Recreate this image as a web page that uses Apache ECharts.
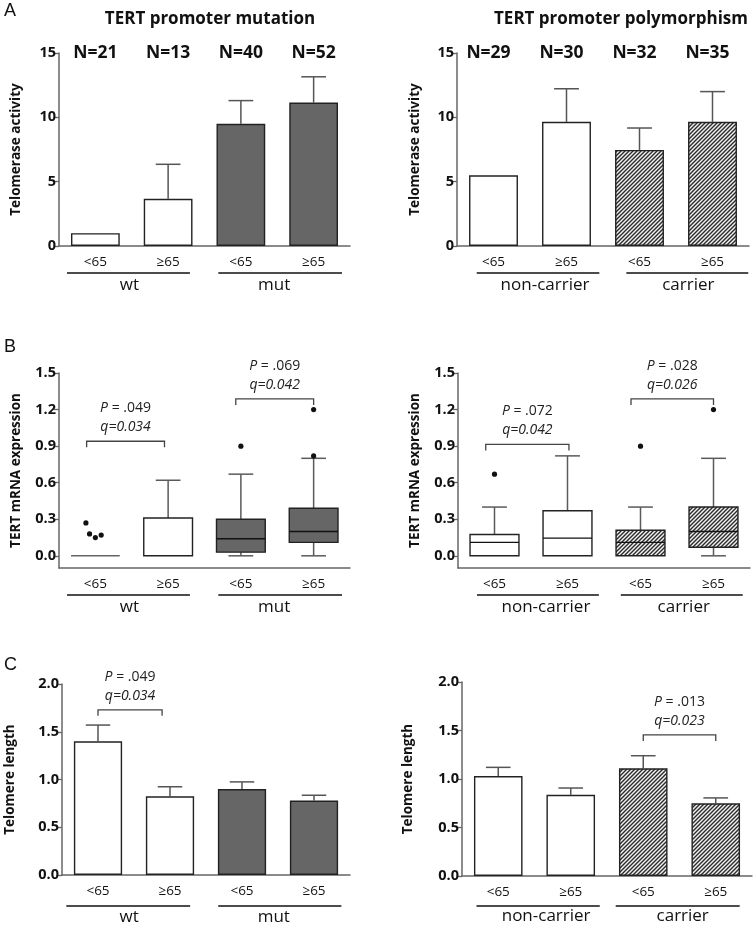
<!DOCTYPE html>
<html><head><meta charset="utf-8">
<script src="https://cdn.jsdelivr.net/npm/echarts@6/dist/echarts.min.js"></script>
<style>html,body{margin:0;padding:0;background:#fff}#c{width:755px;height:926px}</style>
</head><body><div id="c"></div>
<script>
// ---------------- DATA ----------------
const ageCategories = ['<65', '≥65', '<65', '≥65'];
const mutationGroups = ['wt', 'mut'];
const polymorphismGroups = ['non-carrier', 'carrier'];
const mutationN = [21, 13, 40, 52];
const polymorphismN = [29, 30, 32, 35];

const telomeraseMutation = [1.0, 3.67, 9.5, 11.15];
const telomeraseMutationErr = [0, 2.68, 1.8, 2.0];
const telomerasePolymorphism = [5.5, 9.65, 7.47, 9.65];
const telomerasePolymorphismErr = [0, 2.57, 1.7, 2.35];

// [min, Q1, median, Q3, max]
const mrnaMutationBox = [[0, 0, 0, 0, 0], [0, 0, 0, 0.31, 0.62], [0, 0.03, 0.14, 0.30, 0.67], [0, 0.11, 0.20, 0.39, 0.80]];
const mrnaMutationOutliers = [[0, 0.27], [0, 0.18], [0, 0.15], [0, 0.17], [2, 0.90], [3, 1.20], [3, 0.82]];
const mrnaMutationJitter = [-0.13, -0.08, 0, 0.08, 0, 0, 0];
const mrnaPolymorphismBox = [[0, 0, 0.11, 0.175, 0.40], [0, 0, 0.145, 0.37, 0.82], [0, 0, 0.11, 0.21, 0.40], [0, 0.07, 0.20, 0.40, 0.80]];
const mrnaPolymorphismOutliers = [[0, 0.67], [2, 0.90], [3, 1.20]];
const mrnaPolymorphismJitter = [0, 0, 0];
const mrnaTicks = [0, 0.3, 0.6, 0.9, 1.2, 1.5];

const telomereMutation = [1.40, 0.824, 0.90, 0.78];
const telomereMutationErr = [0.17, 0.10, 0.075, 0.055];
const telomerePolymorphism = [1.03, 0.837, 1.11, 0.75];
const telomerePolymorphismErr = [0.09, 0.07, 0.13, 0.055];

const mrnaMutationTests = [{from: 0, to: 1, y: 0.94, p: '.049', q: '0.034'}, {from: 2, to: 3, y: 1.287, p: '.069', q: '0.042'}];
const mrnaPolymorphismTests = [{from: 0, to: 1, y: 0.914, p: '.072', q: '0.042'}, {from: 2, to: 3, y: 1.287, p: '.028', q: '0.026'}];
const telomereMutationTests = [{from: 0, to: 1, y: 1.73, p: '.049', q: '0.034'}];
const telomerePolymorphismTests = [{from: 2, to: 3, y: 1.454, p: '.013', q: '0.023'}];

// ---------------- STYLE ----------------
const FONT = '"Open Sans", "DejaVu Sans", sans-serif';
function makeHatch() {
  const s = 4, c = document.createElement('canvas');
  c.width = s; c.height = s;
  const g = c.getContext('2d');
  g.fillStyle = '#f2f2f2'; g.fillRect(0, 0, s, s);
  g.strokeStyle = '#2a2a2a'; g.lineWidth = 1.4;
  g.beginPath();
  g.moveTo(-1, s + 1); g.lineTo(s + 1, -1);
  g.moveTo(-1, 1); g.lineTo(1, -1);
  g.moveTo(s - 1, s + 1); g.lineTo(s + 1, s - 1);
  g.stroke();
  return c;
}
const hatch = {image: makeHatch(), repeat: 'repeat'};
const mutFills = ['#ffffff', '#ffffff', '#666666', '#666666'];
const polyFills = ['#ffffff', '#ffffff', hatch, hatch];

const panels = [
  {kind: 'bar', left: 59, top: 53, width: 291, height: 193, ymin: 0, ymax: 15, interval: 5, dec: 0,
   name: 'Telomerase activity', nameGap: 36, values: telomeraseMutation, err: telomeraseMutationErr, fills: mutFills,
   groups: mutationGroups, groupSpan: [[-0.39, 0.3], [-0.31, 0.39]], groupDx: [1, -6], n: mutationN, nDx: 0,
   lineDy: 27, groupDy: 39},
  {kind: 'bar', left: 457, top: 53, width: 292, height: 193, ymin: 0, ymax: 15, interval: 5, dec: 0,
   name: 'Telomerase activity', nameGap: 35, values: telomerasePolymorphism, err: telomerasePolymorphismErr, fills: polyFills,
   groups: polymorphismGroups, groupSpan: [[-0.23, 0.45], [-0.18, 0.49]], groupDx: [7, 1], n: polymorphismN, nDx: -5,
   lineDy: 27, groupDy: 39},
  {kind: 'box', left: 59, top: 373, width: 291, height: 195, ymin: -0.1, ymax: 1.5, ticks: mrnaTicks, dec: 1,
   name: 'TERT mRNA expression', nameGap: 36, box: mrnaMutationBox, outliers: mrnaMutationOutliers, jitter: mrnaMutationJitter,
   fills: mutFills, groups: mutationGroups, groupSpan: [[-0.39, 0.3], [-0.31, 0.39]], groupDx: [1, -6],
   tests: mrnaMutationTests, bracketDx: [[-0.12, -0.05], [-0.07, 0]], lineDy: 27, groupDy: 39},
  {kind: 'box', left: 458, top: 373, width: 292, height: 195, ymin: -0.1, ymax: 1.5, ticks: mrnaTicks, dec: 1,
   name: 'TERT mRNA expression', nameGap: 36, box: mrnaPolymorphismBox, outliers: mrnaPolymorphismOutliers, jitter: mrnaPolymorphismJitter,
   fills: polyFills, groups: polymorphismGroups, groupSpan: [[-0.24, 0.43], [-0.27, 0.4]], groupDx: [8, 2],
   tests: mrnaPolymorphismTests, bracketDx: [[-0.12, 0.02], [-0.13, 0]], lineDy: 27, groupDy: 39},
  {kind: 'bar', left: 62, top: 684, width: 288, height: 191, ymin: 0, ymax: 2, interval: 0.5, dec: 1,
   name: 'Telomere length', nameGap: 45, values: telomereMutation, err: telomereMutationErr, fills: mutFills,
   groups: mutationGroups, groupSpan: [[-0.44, 0.28], [-0.33, 0.38]], groupDx: [1, -6],
   tests: telomereMutationTests, bracketDx: [[0, -0.11]], lineDy: 31, groupDy: 42},
  {kind: 'bar', left: 462, top: 682, width: 290, height: 194, ymin: 0, ymax: 2, interval: 0.5, dec: 1,
   name: 'Telomere length', nameGap: 47, values: telomerePolymorphism, err: telomerePolymorphismErr, fills: polyFills,
   groups: polymorphismGroups, groupSpan: [[-0.3, 0.4], [-0.38, 0.33]], groupDx: [8, 5],
   tests: telomerePolymorphismTests, bracketDx: [[0, 0]], lineDy: 30, groupDy: 40}
];

// ---------------- RENDERERS ----------------
function errorRender(params, api) {
  const e = api.value(2);
  if (!e) return null;
  const i = api.value(0), v = api.value(1);
  const p0 = api.coord([i, v]), p1 = api.coord([i, v + e]);
  const cap = api.size([1, 0])[0] * 0.17;
  return {type: 'group', children: [
    {type: 'line', shape: {x1: p0[0], y1: p0[1], x2: p1[0], y2: p1[1]}, style: {stroke: '#555', lineWidth: 1.5}},
    {type: 'line', shape: {x1: p1[0] - cap, y1: p1[1], x2: p1[0] + cap, y2: p1[1]}, style: {stroke: '#555', lineWidth: 1.5}}
  ]};
}
function boxRender(fills) {
  return function (params, api) {
    const i = api.value(0), mn = api.value(1), q1 = api.value(2), md = api.value(3), q3 = api.value(4), mx = api.value(5);
    const cw = api.size([1, 0])[0], bw = cw * 0.67, cap = cw * 0.17;
    const cx = api.coord([i, 0])[0];
    const Y = v => api.coord([i, v])[1];
    const ch = [];
    const ws = {stroke: '#5a5a5a', lineWidth: 1.5};
    if (mx > q3) {
      ch.push({type: 'line', shape: {x1: cx, y1: Y(q3), x2: cx, y2: Y(mx)}, style: ws});
      ch.push({type: 'line', shape: {x1: cx - cap, y1: Y(mx), x2: cx + cap, y2: Y(mx)}, style: ws});
    }
    if (mn < q1) {
      ch.push({type: 'line', shape: {x1: cx, y1: Y(q1), x2: cx, y2: Y(mn)}, style: ws});
      ch.push({type: 'line', shape: {x1: cx - cap, y1: Y(mn), x2: cx + cap, y2: Y(mn)}, style: ws});
    }
    if (q3 > q1) {
      ch.push({type: 'rect', shape: {x: cx - bw / 2, y: Y(q3), width: bw, height: Y(q1) - Y(q3)},
        style: {fill: fills[i], stroke: '#222', lineWidth: 1.4}});
      if (md > q1) ch.push({type: 'line', shape: {x1: cx - bw / 2, y1: Y(md), x2: cx + bw / 2, y2: Y(md)}, style: {stroke: '#111', lineWidth: 1.4}});
    } else {
      ch.push({type: 'line', shape: {x1: cx - bw / 2, y1: Y(q1), x2: cx + bw / 2, y2: Y(q1)}, style: {stroke: '#666', lineWidth: 1.5}});
    }
    return {type: 'group', children: ch};
  };
}
function outlierRender(params, api) {
  const cw = api.size([1, 0])[0];
  const p = api.coord([api.value(0), api.value(1)]);
  return {type: 'circle', shape: {cx: p[0] + api.value(2) * cw, cy: p[1], r: 2.6}, style: {fill: '#111'}};
}
function annotationRender(p) {
  return function (params, api) {
    const cw = api.size([1, 0])[0];
    const base = api.coord([0, p.ymin])[1];
    const ch = [];
    p.groups.forEach((g, gi) => {
      const x0 = api.coord([gi * 2, 0])[0] + p.groupSpan[gi][0] * cw;
      const x1 = api.coord([gi * 2 + 1, 0])[0] + p.groupSpan[gi][1] * cw;
      ch.push({type: 'line', shape: {x1: x0, y1: base + p.lineDy, x2: x1, y2: base + p.lineDy}, style: {stroke: '#111', lineWidth: 1.6}});
      ch.push({type: 'text', style: {text: g, x: (x0 + x1) / 2 + p.groupDx[gi], y: base + p.groupDy,
        fontSize: 17, fontFamily: FONT, fill: '#111', align: 'center', verticalAlign: 'middle'}});
    });
    if (p.n) {
      p.n.forEach((n, i) => {
        const pt = api.coord([i, p.ymax]);
        ch.push({type: 'text', style: {text: 'N=' + n, x: pt[0] + p.nDx, y: pt[1], fontSize: 17.5, fontWeight: 'bold',
          fontFamily: FONT, fill: '#111', align: 'center', verticalAlign: 'middle'}});
      });
    }
    (p.tests || []).forEach((t, ti) => {
      const xa = api.coord([t.from, 0])[0] + p.bracketDx[ti][0] * cw;
      const xb = api.coord([t.to, 0])[0] + p.bracketDx[ti][1] * cw;
      const yb = api.coord([0, t.y])[1];
      ch.push({type: 'polyline', shape: {points: [[xa, yb + 6], [xa, yb], [xb, yb], [xb, yb + 6]]},
        style: {stroke: '#444', lineWidth: 1.3, fill: null}});
      const mx = (xa + xb) / 2;
      ch.push({type: 'text', style: {text: '{i|P} = ' + t.p, x: mx, y: yb - 33, fontSize: 14, fontFamily: FONT, fill: '#222',
        align: 'center', verticalAlign: 'middle', rich: {i: {fontStyle: 'italic', fontSize: 14, fontFamily: FONT, fill: '#222'}}}});
      ch.push({type: 'text', style: {text: 'q=' + t.q, x: mx, y: yb - 14, fontSize: 14, fontStyle: 'italic', fontFamily: FONT, fill: '#222',
        align: 'center', verticalAlign: 'middle'}});
    });
    return {type: 'group', children: ch};
  };
}

// ---------------- OPTION ----------------
const grid = [], xAxis = [], yAxis = [], series = [];
panels.forEach((p, k) => {
  grid.push({left: p.left, top: p.top, width: p.width, height: p.height});
  xAxis.push({gridIndex: k, type: 'category', data: ageCategories,
    axisTick: {show: false}, axisLine: {onZero: false, lineStyle: {color: '#666', width: 1.5}},
    axisLabel: {margin: 9, fontSize: 13.5, color: '#111', fontFamily: FONT}});
  const ya = {gridIndex: k, type: 'value', min: p.ymin, max: p.ymax,
    axisLine: {show: true, lineStyle: {color: '#666', width: 1.5}},
    axisTick: {show: true, length: 5, lineStyle: {color: '#666', width: 1.3}},
    splitLine: {show: false},
    axisLabel: {margin: 3, fontSize: 14.5, fontWeight: 'bold', color: '#111', fontFamily: FONT,
      formatter: v => Number(v).toFixed(p.dec)},
    name: p.name, nameLocation: 'middle', nameGap: p.nameGap,
    nameTextStyle: {fontSize: 13.5, fontWeight: 'bold', color: '#111', fontFamily: FONT}};
  if (p.ticks) {
    ya.axisLabel.customValues = p.ticks;
    ya.axisTick.customValues = p.ticks;
  } else {
    ya.interval = p.interval;
  }
  yAxis.push(ya);
  if (p.kind === 'bar') {
    series.push({type: 'bar', xAxisIndex: k, yAxisIndex: k, barWidth: '67%',
      data: p.values.map((v, i) => ({value: v, itemStyle: {color: p.fills[i]}})),
      itemStyle: {borderColor: '#222', borderWidth: 1.4}, silent: true, z: 3});
    series.push({type: 'custom', xAxisIndex: k, yAxisIndex: k, renderItem: errorRender, clip: false,
      encode: {x: 0, y: 1}, data: p.values.map((v, i) => [i, v, p.err[i]]), silent: true, z: 2});
  } else {
    series.push({type: 'custom', xAxisIndex: k, yAxisIndex: k, renderItem: boxRender(p.fills), clip: false,
      encode: {x: 0, y: [1, 2, 3, 4, 5]}, data: p.box.map((b, i) => [i].concat(b)), silent: true, z: 3});
    series.push({type: 'custom', xAxisIndex: k, yAxisIndex: k, renderItem: outlierRender, clip: false,
      encode: {x: 0, y: 1}, data: p.outliers.map((o, i) => [o[0], o[1], p.jitter[i]]), silent: true, z: 4});
  }
  series.push({type: 'custom', xAxisIndex: k, yAxisIndex: k, renderItem: annotationRender(p), clip: false,
    encode: {x: 0, y: 1}, data: [[0, p.ymin]], silent: true, z: 5});
});

const graphic = [
  {type: 'text', left: 4, top: 2, style: {text: 'A', fontSize: 18, fontFamily: '"Liberation Sans", Arial, sans-serif', fill: '#111'}},
  {type: 'text', left: 4, top: 338, style: {text: 'B', fontSize: 18, fontFamily: '"Liberation Sans", Arial, sans-serif', fill: '#111'}},
  {type: 'text', left: 4, top: 656, style: {text: 'C', fontSize: 18, fontFamily: '"Liberation Sans", Arial, sans-serif', fill: '#111'}},
  {type: 'text', x: 210, y: 19, style: {text: 'TERT promoter mutation', fontSize: 17, fontWeight: 'bold', fontFamily: FONT, fill: '#111', align: 'center', verticalAlign: 'middle'}},
  {type: 'text', x: 621, y: 19, style: {text: 'TERT promoter polymorphism', fontSize: 17, fontWeight: 'bold', fontFamily: FONT, fill: '#111', align: 'center', verticalAlign: 'middle'}}
];

const chart = echarts.init(document.getElementById('c'), null, {renderer: 'canvas'});
chart.setOption({animation: false, backgroundColor: '#fff', grid, xAxis, yAxis, series, graphic});
</script>
</body></html>
